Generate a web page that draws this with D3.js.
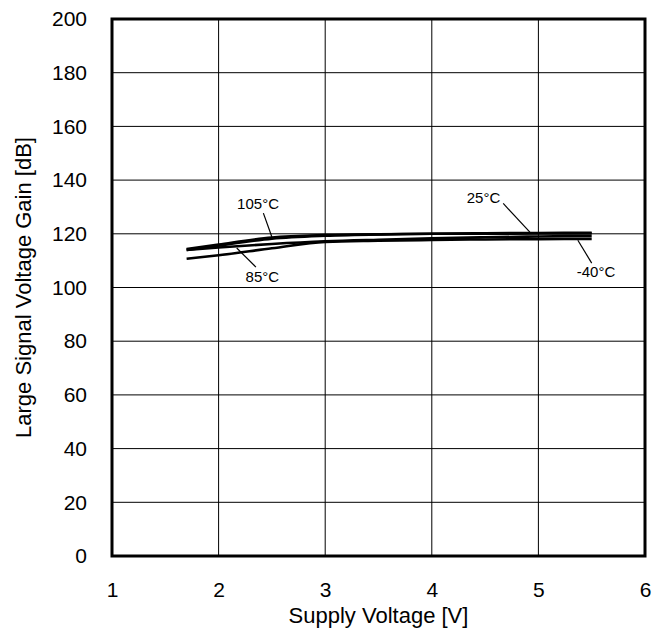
<!DOCTYPE html>
<html><head><meta charset="utf-8">
<script src="https://cdn.jsdelivr.net/npm/d3@7"></script>
<style>body{margin:0;background:#fff}svg{font-family:Arial,"Liberation Sans",sans-serif}</style>
</head><body><svg id="c" width="655" height="634"></svg>
<script>
const voltage = [1.7, 2.0, 2.5, 3.0, 3.5, 4.0, 4.5, 5.0, 5.5];
const gain105 = [114.3, 116.0, 118.6, 119.5, 119.8, 120.0, 120.0, 120.1, 120.1];
const gain85  = [114.0, 114.9, 116.2, 117.2, 117.8, 118.3, 118.7, 119.0, 119.2];
const gain25  = [114.0, 115.6, 118.2, 119.3, 119.8, 120.0, 120.2, 120.3, 120.4];
const gainM40 = [110.7, 112.0, 114.6, 117.0, 117.4, 117.7, 117.9, 118.0, 118.1];
const xTicks = [1, 2, 3, 4, 5, 6];
const yTicks = [0, 20, 40, 60, 80, 100, 120, 140, 160, 180, 200];
const labels = ["105°C", "85°C", "25°C", "-40°C"];
const labelPos = [[2.37, 129.2], [2.41, 102.0], [4.485, 131.5], [5.54, 103.9]];
const leaderFrom = [[2.42, 127.7], [2.35, 107.6], [4.67, 131.3], [5.50, 109.1]];
const leaderTo = [[2.50, 118.8], [2.17, 114.7], [4.92, 120.6], [5.37, 117.6]];

const svg = d3.select("#c");
const L = 112, R = 645, T = 19, B = 556;
const x = d3.scaleLinear().domain([1, 6]).range([L, R]);
const y = d3.scaleLinear().domain([0, 200]).range([B, T]);
const FONT = "Arial, Liberation Sans, sans-serif";

// grid
svg.append("g").selectAll("line").data(xTicks).enter().append("line")
  .attr("x1", d => x(d)).attr("x2", d => x(d)).attr("y1", T).attr("y2", B)
  .attr("stroke", "#000").attr("stroke-width", 1);
svg.append("g").selectAll("line").data(yTicks).enter().append("line")
  .attr("y1", d => y(d)).attr("y2", d => y(d)).attr("x1", L).attr("x2", R)
  .attr("stroke", "#000").attr("stroke-width", 1);

// axes (labels only)
const xa = svg.append("g").attr("transform", `translate(0,${B})`)
  .call(d3.axisBottom(x).tickValues(xTicks).tickFormat(d3.format("d")).tickSize(0).tickPadding(26));
xa.select(".domain").remove();
xa.attr("font-size", 21).attr("font-family", FONT);
xa.selectAll("text").attr("fill", "#000");
const ya = svg.append("g").attr("transform", `translate(${L},0)`)
  .call(d3.axisLeft(y).tickValues(yTicks).tickFormat(d3.format("d")).tickSize(0).tickPadding(25));
ya.select(".domain").remove();
ya.attr("font-size", 21).attr("font-family", FONT);
ya.selectAll("text").attr("fill", "#000");

// frame
svg.append("rect").attr("x", L).attr("y", T).attr("width", R - L).attr("height", B - T)
  .attr("fill", "none").attr("stroke", "#000").attr("stroke-width", 3);

// curves
const line = d3.line().x((d, i) => x(voltage[i])).y(d => y(d)).curve(d3.curveMonotoneX);
[gain105, gain85, gain25, gainM40].forEach(s => {
  svg.append("path").attr("d", line(s)).attr("fill", "none").attr("stroke", "#000").attr("stroke-width", 2.6);
});

// annotations
labels.forEach((t, i) => {
  svg.append("line").attr("x1", x(leaderFrom[i][0])).attr("y1", y(leaderFrom[i][1]))
    .attr("x2", x(leaderTo[i][0])).attr("y2", y(leaderTo[i][1]))
    .attr("stroke", "#000").attr("stroke-width", 1.2);
  svg.append("text").attr("x", x(labelPos[i][0])).attr("y", y(labelPos[i][1]))
    .attr("text-anchor", "middle").attr("font-size", 15).text(t);
});

// titles
svg.append("text").attr("x", x(3.5)).attr("y", 623).attr("text-anchor", "middle")
  .attr("font-size", 22).text("Supply Voltage [V]");
svg.append("text").attr("transform", `translate(31,${(T + B) / 2}) rotate(-90)`)
  .attr("text-anchor", "middle").attr("font-size", 22).text("Large Signal Voltage Gain [dB]");
</script></body></html>
